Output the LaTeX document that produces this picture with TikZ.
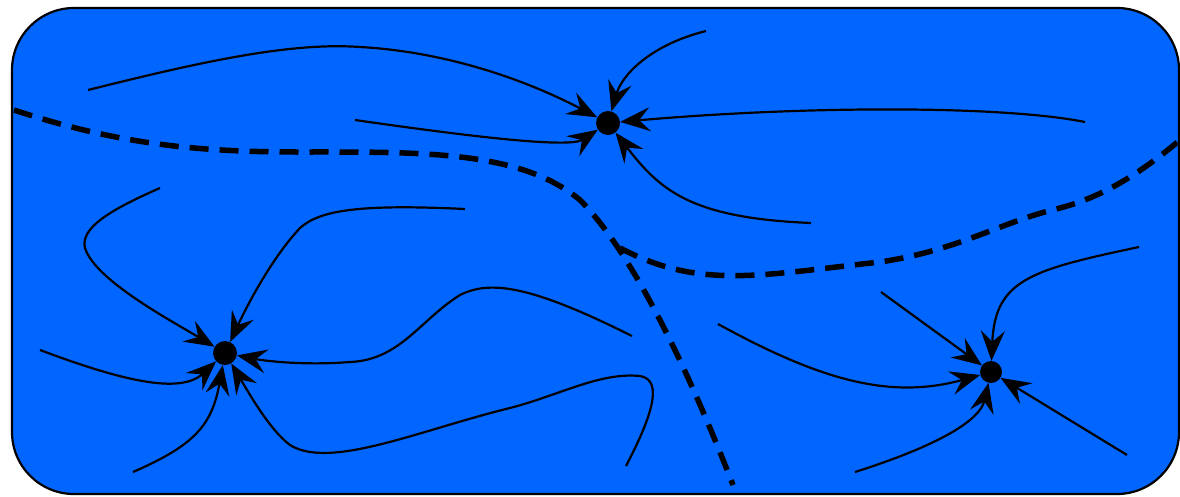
\documentclass[tikz,border=0pt]{standalone}
\usetikzlibrary{arrows.meta}
\definecolor{basin}{HTML}{0066FF}
\begin{document}
\begin{tikzpicture}[x=1pt, y=-1pt,
  attractor/.style={circle, fill=black, minimum size=24pt, inner sep=0pt},
  flow/.style={line width=2.2pt, -{Stealth[length=30pt, width=24pt, inset=11pt]}},
  separatrix/.style={line width=5.5pt, dash pattern=on 19pt off 11pt}]
  \useasboundingbox (0,0) rectangle (1180,496);
  \draw[fill=basin, line width=2.2pt, rounded corners=62pt] (12,8) rectangle (1179,494);
  \node[attractor] (A) at (608,123) {};
  \node[attractor] (B) at (225,353) {};
  \node[attractor, minimum size=22pt] (C) at (991,372) {};
  \coordinate (a1) at (88,90);
  \coordinate (a2) at (355,120);
  \coordinate (a3) at (706,31);
  \coordinate (a4) at (1085,122);
  \coordinate (a5) at (811,223);
  \coordinate (b1) at (160,188);
  \coordinate (b2) at (465,209);
  \coordinate (b3) at (40,350);
  \coordinate (b4) at (133,472);
  \coordinate (b5) at (632,336);
  \coordinate (b6) at (626,466);
  \coordinate (c1) at (881,292);
  \coordinate (c2) at (1139,247);
  \coordinate (c3) at (718,324);
  \coordinate (c4) at (855,472);
  \coordinate (c5) at (1127,455);
  \draw[flow] (a1) .. controls (200,62) and (290,42) .. (360,47) .. controls (450,52) and (530,82) .. (A);
  \draw[flow] (a2) .. controls (480,138) and (570,148) .. (A);
  \draw[flow] (a3) .. controls (650,45) and (622,75) .. (A);
  \draw[flow] (a4) .. controls (1000,105) and (800,106) .. (A);
  \draw[flow] (a5) .. controls (690,218) and (660,190) .. (A);
  \draw[flow] (b1) .. controls (110,210) and (80,228) .. (85,248) .. controls (95,280) and (170,320) .. (B);
  \draw[flow] (b2) .. controls (360,204) and (320,210) .. (300,228) .. controls (270,260) and (245,310) .. (B);
  \draw[flow] (b3) .. controls (120,380) and (180,395) .. (B);
  \draw[flow] (b4) .. controls (195,445) and (212,425) .. (B);
  \draw[flow] (b5) .. controls (530,285) and (490,280) .. (460,295) .. controls (420,320) and (400,360) .. (350,362) .. controls (300,366) and (260,360) .. (B);
  \draw[flow] (b6) .. controls (650,420) and (665,380) .. (640,376) .. controls (600,372) and (560,395) .. (510,408) .. controls (420,430) and (330,470) .. (290,445) .. controls (270,430) and (250,395) .. (B);
  \draw[flow] (c1) -- (C);
  \draw[flow] (c2) .. controls (1030,270) and (995,280) .. (C);
  \draw[flow] (c3) .. controls (820,380) and (890,400) .. (C);
  \draw[flow] (c4) .. controls (940,445) and (980,420) .. (C);
  \draw[flow] (c5) -- (C);
  \coordinate (s1) at (14,110);
  \coordinate (s2) at (733,485);
  \coordinate (s3) at (620,248);
  \coordinate (s4) at (1180,140);
  \draw[separatrix] (s1) .. controls (120,145) and (200,152) .. (300,152) .. controls (420,152) and (520,150) .. (580,200) .. controls (640,260) and (700,400) .. (s2);
  \draw[separatrix] (s3) .. controls (700,290) and (760,275) .. (880,262) .. controls (960,250) and (1000,222) .. (1060,208) .. controls (1110,195) and (1150,165) .. (s4);
\end{tikzpicture}
\end{document}
